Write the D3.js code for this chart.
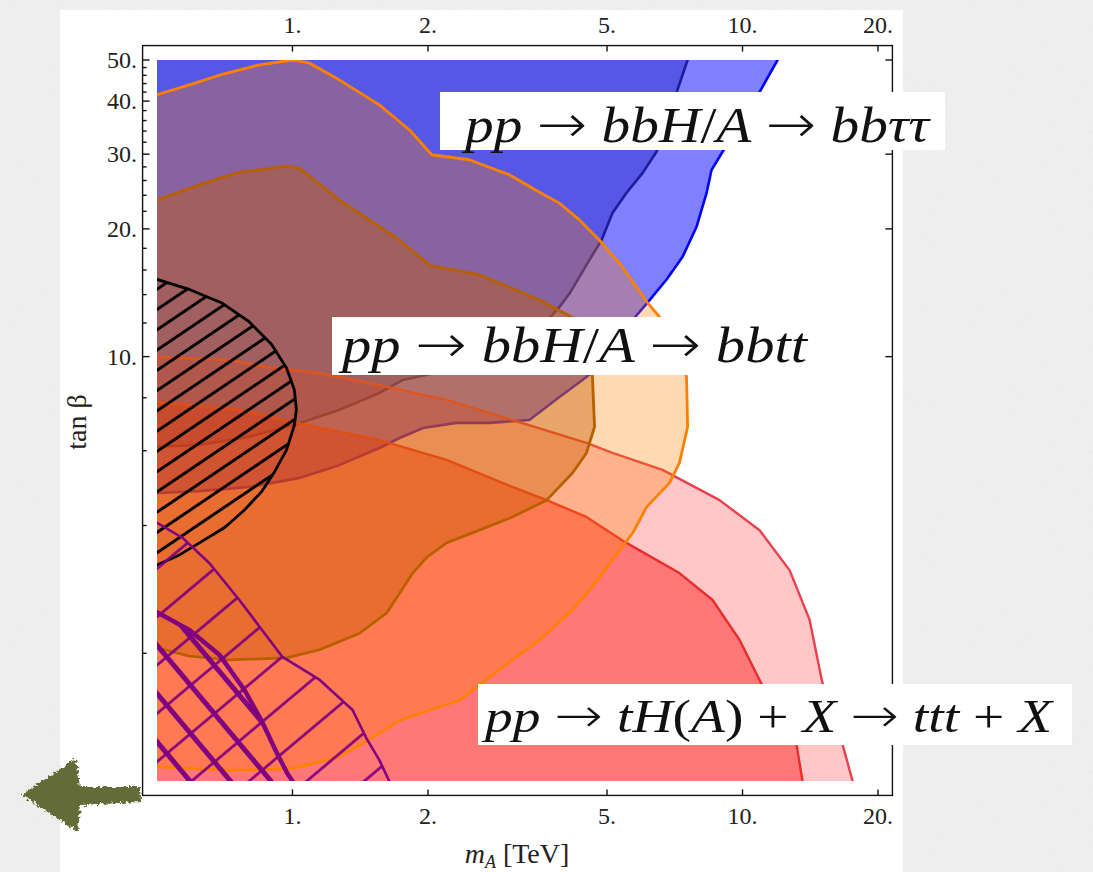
<!DOCTYPE html>
<html>
<head>
<meta charset="utf-8">
<script src="https://cdn.jsdelivr.net/npm/d3@7"></script>
<style>
  body { margin: 0; background: #f2f2f2; }
  svg { display: block; }
</style>
</head>
<body>
<div id="chart"></div>
<script>
// tick values
const xTicks = [1, 2, 5, 10, 20];
const yMajor = [10, 20, 30, 40, 50];
const yMinor = [2, 4, 6, 8, 12, 14, 16, 18, 22, 24, 26, 28, 32, 34, 36, 38, 42, 44, 46, 48];

// contours as [mA (TeV), tan beta]
// pp -> bbH/A -> bb tau tau
const tauOuter = [[11.96,50],[10.91,42.0],[9.85,35.1],[9.03,30.4],[8.53,27.5],[8.32,24.3],[7.90,20.2],
  [7.36,17.2],[6.78,15.2],[6.15,13.4],[5.47,11.6],[4.94,9.82],[4.50,8.95],[3.92,8.03],[3.36,7.09],
  [2.74,6.98],[2.31,6.98],[1.95,6.79],[1.73,6.43],[1.56,6.09],[1.27,5.55],[1.04,5.18],[0.80,4.93],
  [0.62,4.82],[0.5,4.77]];
const tauInner = [[7.55,50],[7.14,42.0],[6.71,34.2],[6.44,30.4],[6.00,27.1],[5.52,24.3],[5.14,21.8],
  [4.86,18.8],[4.57,16.9],[4.13,14.1],[3.92,13.1],[3.54,11.6],[3.04,10.5],[2.47,9.71],[2.12,9.20],
  [1.76,8.81],[1.56,8.21],[1.27,7.49],[1.04,6.98],[0.80,6.47],[0.62,6.19],[0.5,6.13]];

// pp -> bbH/A -> bbtt
const bbttOuter = [[0.5,41.4],[0.59,43.7],[0.69,46.1],[0.845,48.7],[1.0,50],[1.09,49.2],[1.27,44.9],
  [1.56,39.2],[1.82,34.2],[2.04,29.9],[2.47,29.1],[3.04,26.8],[3.54,24.4],[3.92,23.0],[4.34,21.0],
  [4.81,18.8],[5.33,16.6],[5.81,14.6],[6.15,13.4],[6.54,12.4],[7.06,10.7],[7.51,8.95],[7.55,6.83],
  [7.24,5.62],[6.88,5.04],[6.12,4.42],[5.70,3.84],[5.14,3.32],[4.64,2.87],[4.19,2.53],[3.54,2.15],
  [2.88,1.83],[2.35,1.55],[2.02,1.47],[1.73,1.39],[1.48,1.25],[1.27,1.14],[1.0,1.07],[0.724,1.06],
  [0.5,1.08]];
const bbttInner = [[0.5,23.4],[0.62,25.4],[0.762,27.2],[0.97,28.1],[1.036,27.8],[1.27,23.4],[1.73,18.8],
  [2.02,16.4],[2.60,15.6],[3.54,13.6],[4.23,12.3],[4.57,10.7],[4.64,8.95],[4.69,6.83],[4.50,5.93],
  [4.19,5.32],[3.67,4.59],[3.08,4.19],[2.60,3.90],[2.20,3.64],[1.99,3.37],[1.85,3.09],[1.73,2.77],
  [1.62,2.49],[1.41,2.23],[1.15,2.04],[0.97,1.95],[0.724,1.93],[0.59,1.97],[0.5,2.06]];

// pp -> tH(A) + X -> ttt + X
const tttOuter = [[0.5,9.98],[0.724,9.82],[0.875,9.45],[1.15,9.15],[1.56,8.57],[2.20,7.91],[3.08,7.09],
  [4.50,6.26],[5.14,5.93],[6.64,5.41],[8.89,4.59],[10.91,3.90],[12.72,3.14],[14.09,2.40],[15.0,1.73],
  [16.0,1.32],[16.68,1.22],[17.56,1.0]];
const tttInner = [[0.5,7.82],[0.762,7.49],[1.02,6.98],[1.56,6.36],[2.20,5.71],[3.08,4.93],[3.67,4.59],
  [4.50,4.19],[5.52,3.64],[7.24,3.09],[8.58,2.67],[9.85,2.15],[10.91,1.73],[12.08,1.39],[13.18,1.22],
  [13.59,1.0]];

// excluded regions
const blackBound = [[0.5,15.2],[0.59,14.4],[0.695,13.4],[0.80,12.1],[0.898,10.7],[0.97,9.40],[1.01,8.34],
  [1.02,7.49],[1.01,6.90],[0.97,6.03],[0.912,5.35],[0.853,4.80],[0.782,4.35],[0.706,3.95],[0.621,3.64],
  [0.561,3.41],[0.5,3.23]];
const purpleOuter = [[0.5,4.06],[0.57,3.74],[0.654,3.26],[0.762,2.67],[0.95,1.96],[1.15,1.73],[1.36,1.47],
  [1.46,1.26],[1.56,1.12],[1.64,1.0]];
const purpleInner = [[0.5,2.50],[0.59,2.27],[0.689,1.98],[0.782,1.64],[0.853,1.39],[0.921,1.17],
  [0.975,1.04],[1.0,1.0]];

// process labels: [text, style] with style 1 = italic, 0 = roman, 2 = arrow
const labels = [
  { box: [440, 92, 945, 150], x0: 465, x1: 935, base: 142, size: 50,
    parts: [["pp",1],[" ",0],["\u2192",2],[" ",0],["bbH",1],["/",0],["A",1],[" ",0],["\u2192",2],[" ",0],["bb\u03c4\u03c4",1]] },
  { box: [332, 317, 822, 375], x0: 342, x1: 812, base: 362, size: 50,
    parts: [["pp",1],[" ",0],["\u2192",2],[" ",0],["bbH",1],["/",0],["A",1],[" ",0],["\u2192",2],[" ",0],["bbtt",1]] },
  { box: [478, 684, 1072, 745], x0: 485, x1: 1058, base: 732, size: 46,
    parts: [["pp",1],[" ",0],["\u2192",2],[" ",0],["tH",1],["(",0],["A",1],[") + ",0],["X",1],[" ",0],["\u2192",2],[" ",0],["ttt",1],[" + ",0],["X",1]] }
];

const W = 1093, H = 872;
const serif = "'Liberation Serif', 'DejaVu Serif', serif";

const svg = d3.select("#chart").append("svg")
  .attr("width", W).attr("height", H);
const defs = svg.append("defs");

// paper background
const paper = defs.append("filter").attr("id", "paper")
  .attr("x", 0).attr("y", 0).attr("width", "100%").attr("height", "100%");
paper.append("feTurbulence").attr("type", "fractalNoise")
  .attr("baseFrequency", 0.8).attr("numOctaves", 3).attr("seed", 3);
paper.append("feColorMatrix").attr("type", "matrix")
  .attr("values", "0 0 0 0 0.45  0 0 0 0 0.45  0 0 0 0 0.45  0 0 0 0.16 0");
svg.append("rect").attr("width", W).attr("height", H).attr("fill", "#f3f3f3");
svg.append("rect").attr("width", W).attr("height", H).attr("filter", "url(#paper)");
svg.append("rect").attr("x", 60).attr("y", 10).attr("width", 843).attr("height", H - 10).attr("fill", "#fff");

// scales
const x = d3.scaleLog().domain([0.5, 20]).range([157, 878]);
const y = d3.scaleLog().domain([1, 50]).range([781, 60]);
const padX = 0.02 * (x.range()[1] - x.range()[0]);
const padY = 0.02 * (y.range()[0] - y.range()[1]);
const fx0 = x.range()[0] - padX, fx1 = x.range()[1] + padX;
const fy0 = y.range()[1] - padY, fy1 = y.range()[0] + padY;

// hatching
function hatch(id, gap, angle, color, w) {
  const p = defs.append("pattern").attr("id", id)
    .attr("patternUnits", "userSpaceOnUse")
    .attr("width", 20).attr("height", gap)
    .attr("patternTransform", "rotate(" + angle + ")");
  p.append("rect").attr("x", 0).attr("y", (gap - w) / 2)
    .attr("width", 20).attr("height", w).attr("fill", color);
}
hatch("hatchK", 16.8, -34, "#000", 2.9);
hatch("hatchP", 37, -40, "#800080", 2.6);
hatch("hatchPP", 31, 50, "#800080", 5);

defs.append("clipPath").attr("id", "plotclip").append("rect")
  .attr("x", x.range()[0]).attr("y", y.range()[1])
  .attr("width", x.range()[1] - x.range()[0]).attr("height", y.range()[0] - y.range()[1]);

const plot = svg.append("g").attr("clip-path", "url(#plotclip)");
const line = d3.line().x(d => x(d[0])).y(d => y(d[1]));

function region(fillPts, edge, fill, op, stroke, sw) {
  plot.append("path").attr("d", line(fillPts) + "Z")
    .attr("fill", fill).attr("fill-opacity", op);
  plot.append("path").attr("d", line(edge))
    .attr("fill", "none").attr("stroke", stroke).attr("stroke-width", sw)
    .attr("stroke-linejoin", "round").attr("stroke-linecap", "round");
}

// bb tau tau (blue)
region([[0.5, 50], ...tauOuter], tauOuter, "rgb(0,0,255)", 0.5, "#0000ff", 2.6);
region([[0.5, 50], ...tauInner], tauInner, "rgb(40,40,200)", 0.45, "#1c1c9c", 2.6);
// ttt (red)
region([...tttOuter, [0.5, 1]], tttOuter, "rgb(255,0,0)", 0.22, "#e8404c", 2.4);
region([...tttInner, [0.5, 1]], tttInner, "rgb(255,0,0)", 0.4, "#ec2c2c", 2.4);
// bbtt (orange)
region(bbttOuter, bbttOuter, "rgb(255,128,0)", 0.3, "#ff8000", 2.8);
region(bbttInner, bbttInner, "rgb(200,90,0)", 0.4, "#b86000", 2.8);
// hatched exclusions
region(blackBound, blackBound, "url(#hatchK)", 1, "#000", 2.8);
region([...purpleOuter, [0.5, 1]], purpleOuter, "url(#hatchP)", 1, "#800080", 2.6);
region([...purpleInner, [0.5, 1]], purpleInner, "url(#hatchPP)", 1, "#800080", 4.5);

// frame and ticks
const axis = svg.append("g").attr("stroke", "#111").attr("stroke-width", 1.4);
axis.append("rect").attr("x", fx0).attr("y", fy0)
  .attr("width", fx1 - fx0).attr("height", fy1 - fy0).attr("fill", "none");
xTicks.forEach(t => {
  axis.append("line").attr("x1", x(t)).attr("x2", x(t)).attr("y1", fy1).attr("y2", fy1 - 6);
  axis.append("line").attr("x1", x(t)).attr("x2", x(t)).attr("y1", fy0).attr("y2", fy0 + 6);
});
yMajor.forEach(t => {
  axis.append("line").attr("x1", fx0).attr("x2", fx0 + 7).attr("y1", y(t)).attr("y2", y(t));
  axis.append("line").attr("x1", fx1).attr("x2", fx1 - 7).attr("y1", y(t)).attr("y2", y(t));
});
yMinor.forEach(t => {
  axis.append("line").attr("x1", fx0).attr("x2", fx0 + 4).attr("y1", y(t)).attr("y2", y(t));
});

const txt = svg.append("g").attr("font-family", serif).attr("fill", "#222").attr("font-size", 24);
txt.selectAll(".xb").data(xTicks).enter().append("text")
  .attr("x", d => x(d)).attr("y", 824).attr("text-anchor", "middle").text(d => d + ".");
txt.selectAll(".xt").data(xTicks).enter().append("text")
  .attr("x", d => x(d)).attr("y", 33).attr("text-anchor", "middle").text(d => d + ".");
txt.selectAll(".yl").data(yMajor).enter().append("text")
  .attr("x", 137).attr("y", d => y(d) + 8).attr("text-anchor", "end").text(d => d + ".");

// axis titles
const xt = txt.append("text").attr("x", 517).attr("y", 863).attr("text-anchor", "middle").attr("font-size", 28);
xt.append("tspan").attr("font-style", "italic").text("m");
xt.append("tspan").attr("font-style", "italic").attr("font-size", 18).attr("dy", 5).text("A");
xt.append("tspan").attr("dy", -5).text(" [TeV]");
txt.append("text").attr("transform", "translate(86,422) rotate(-90)")
  .attr("text-anchor", "middle").attr("font-size", 28)
  .text("tan \u03b2");

labels.forEach(L => {
  svg.append("rect").attr("x", L.box[0]).attr("y", L.box[1])
    .attr("width", L.box[2] - L.box[0]).attr("height", L.box[3] - L.box[1]).attr("fill", "#fff");
  const t = svg.append("text").attr("font-family", serif).attr("font-size", L.size).attr("fill", "#111");
  L.parts.forEach(p => {
    const s = t.append("tspan").text(p[0]);
    if (p[1] === 1) s.attr("font-style", "italic");
    if (p[1] === 2) s.attr("font-family", "'DejaVu Sans', sans-serif").attr("font-weight", 300)
      .attr("font-size", L.size * 1.05);
  });
  const w = t.node().getBBox().width;
  t.attr("transform", "translate(" + L.x0 + "," + L.base + ") scale(" + ((L.x1 - L.x0) / w) + ",1)");
});

// green arrow
const rough = defs.append("filter").attr("id", "rough");
rough.append("feTurbulence").attr("type", "fractalNoise").attr("baseFrequency", 0.35)
  .attr("numOctaves", 2).attr("seed", 7).attr("result", "n");
rough.append("feDisplacementMap").attr("in", "SourceGraphic").attr("in2", "n")
  .attr("scale", 7).attr("xChannelSelector", "R").attr("yChannelSelector", "G");
svg.append("path")
  .attr("d", "M22,795 L76,758 L80,787 L140,787 L141,802 L80,805 L78,832 Z")
  .attr("fill", "#636c37").attr("filter", "url(#rough)");
</script>
</body>
</html>
